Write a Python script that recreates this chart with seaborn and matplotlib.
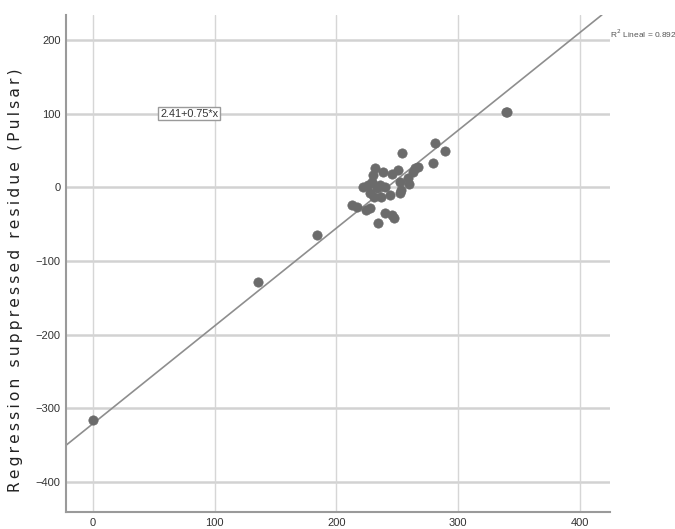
import matplotlib
matplotlib.use("Agg")
import matplotlib.pyplot as plt
import numpy as np
import pandas as pd
import seaborn as sns

# values
x_vals = [0, 136, 184, 339, 340,
          254, 281, 289, 279, 267, 265, 263, 259, 260,
          232, 230, 238, 246, 251, 252, 222, 226, 229, 233, 236, 240,
          228, 231, 237, 244, 253, 252,
          213, 217, 224, 228, 240, 246, 247, 234]
y_vals = [-316, -129, -65, 102, 102,
          47, 60, 49, 33, 27, 26, 20, 12, 5,
          26, 16, 20, 18, 23, 7, 0, 3, 7, -1, 3, 0,
          -8, -13, -13, -11, -4, -8,
          -24, -27, -31, -28, -35, -38, -42, -49]

# fit line as drawn in the reference (intercept, slope)
fit_intercept = -321
fit_slope = 1.327

x_ticks = [0, 100, 200, 300, 400]
y_ticks = [-400, -300, -200, -100, 0, 100, 200]
ylabel = "Regression suppressed residue (Pulsar)"
eq_label = "2.41+0.75*x"
r2_label = "R$^2$ Lineal = 0.892"

df = pd.DataFrame({"x": x_vals, "y": y_vals})

sns.set_style("white")
plt.rcParams["font.family"] = ["Liberation Sans", "DejaVu Sans"]

fig = plt.figure(figsize=(6.75, 5.29), dpi=100)
ax = fig.add_axes([0.098, 0.032, 0.806, 0.94])
ax.set_xlim(-22, 425)
ax.set_ylim(-441, 234)

# grid
for yt in y_ticks:
    ax.axhline(yt, color="#d2d2d2", lw=1.8, zorder=0)
for xt in x_ticks:
    ax.axvline(xt, color="#d6d6d6", lw=1.0, zorder=0)

sns.scatterplot(data=df, x="x", y="y", ax=ax, s=45, color="#6b6b6b",
                edgecolor="#6b6b6b", linewidth=0.5, zorder=3)
ax.axline((0, fit_intercept), slope=fit_slope, color="#8e8e8e", lw=1.2, zorder=2)

ax.set_xticks(x_ticks)
ax.set_yticks(y_ticks)
ax.tick_params(axis="both", length=0, labelsize=8, labelcolor="#333333", pad=4)
ax.set_xlabel("")
ax.set_ylabel("")

for side in ["top", "right"]:
    ax.spines[side].set_visible(False)
for side in ["left", "bottom"]:
    ax.spines[side].set_color("#9a9a9a")
    ax.spines[side].set_linewidth(1.5)

# letter-spaced y label like the reference
spaced = "\u2009".join(ylabel)
fig.text(16 / 675, 1 - 280 / 529, spaced, rotation=90, ha="center", va="center",
         family=["DejaVu Sans"], fontsize=11.2, color="#222222")

ax.text(79, 100, eq_label, fontsize=7.8, color="#333333", ha="center", va="center",
        bbox=dict(boxstyle="square,pad=0.15", fc="white", ec="#9a9a9a", lw=1))
ax.annotate(r2_label, xy=(0.999, 0.962), xycoords="axes fraction", fontsize=6.0,
            color="#555555", ha="left", va="center", annotation_clip=False)

fig.savefig("out.png", dpi=100)
